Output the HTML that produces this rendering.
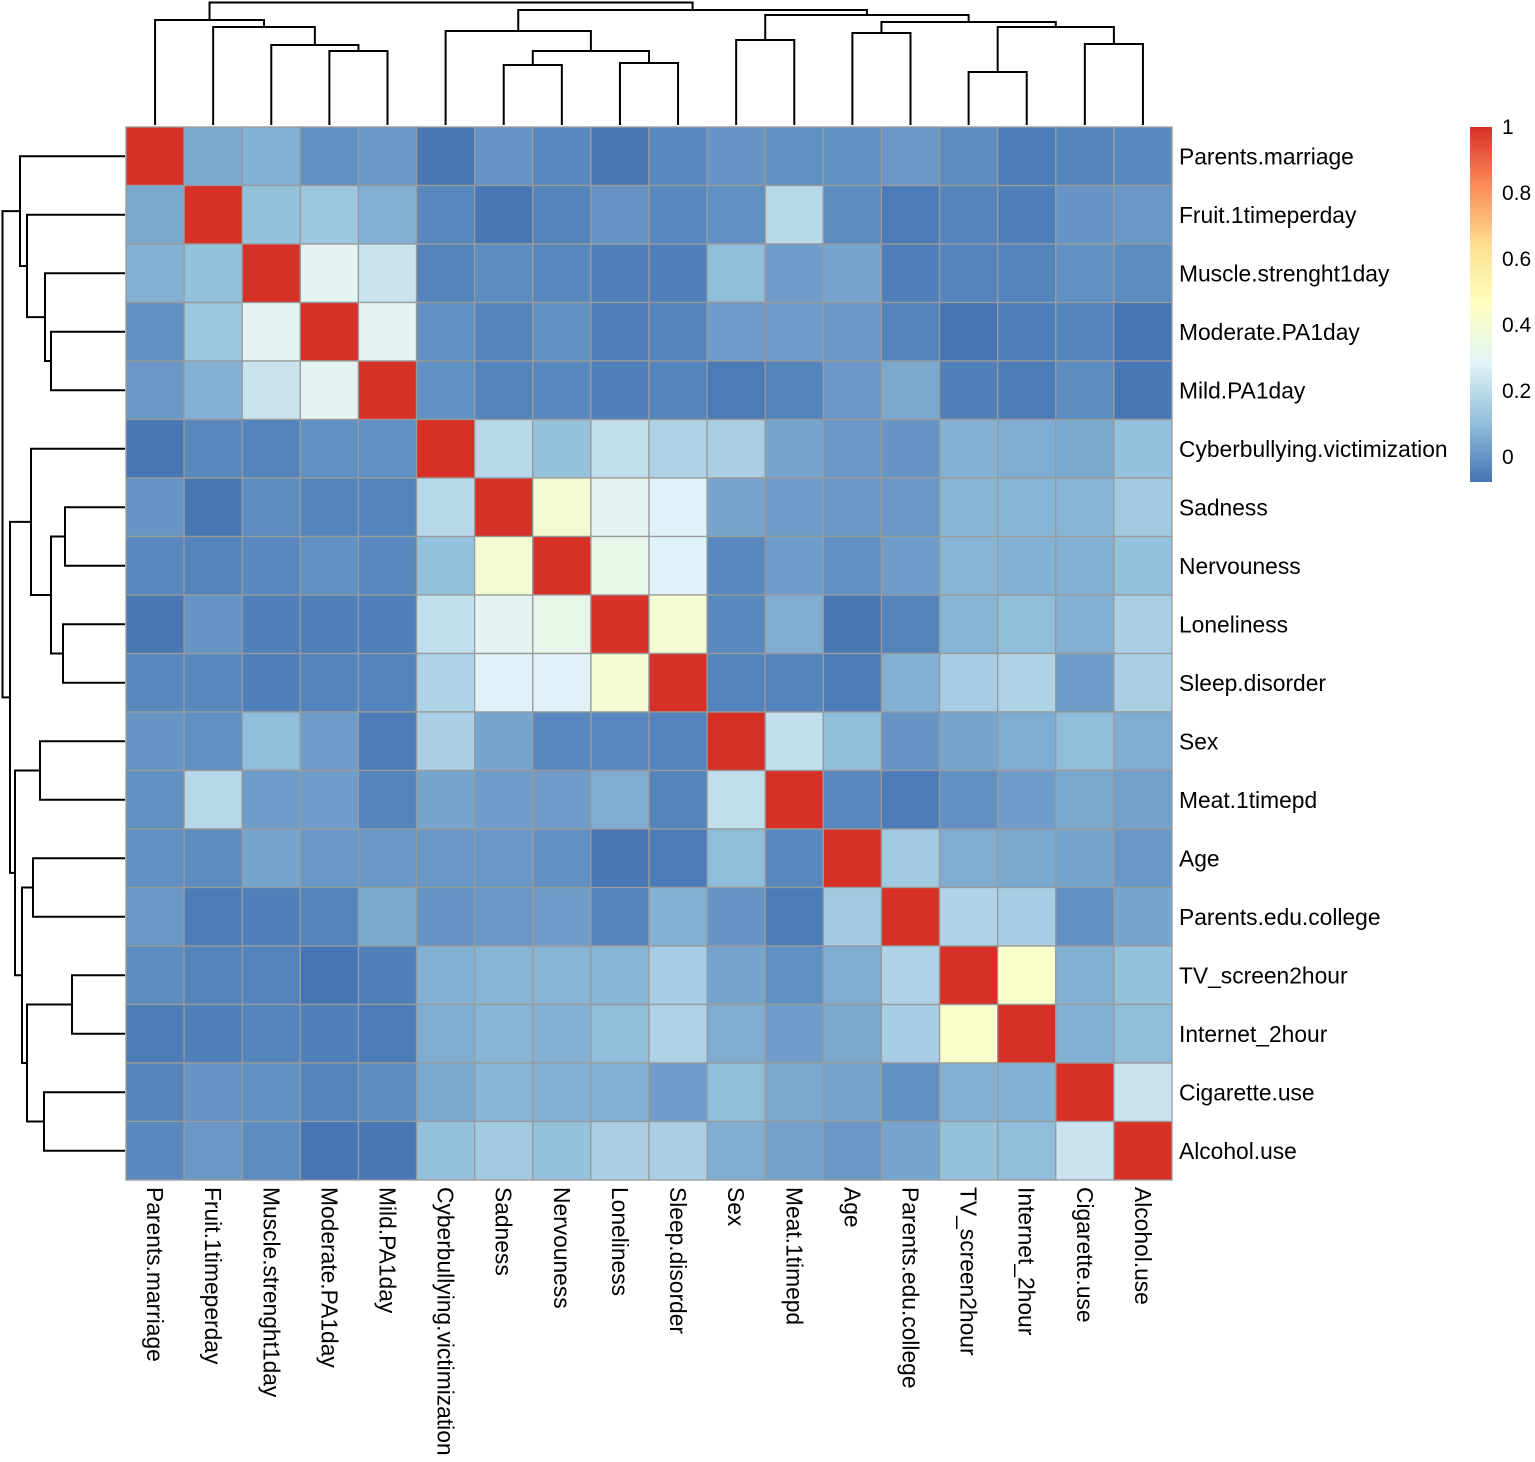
<!DOCTYPE html>
<html><head><meta charset="utf-8"><style>
html,body{margin:0;padding:0;background:#fff;}
svg{display:block;font-family:"Liberation Sans",Arial,sans-serif;}
</style></head><body>
<svg id="chart" width="1535" height="1462" viewBox="0 0 1535 1462" xmlns="http://www.w3.org/2000/svg">
<defs>
<linearGradient id="lg" x1="0" y1="1" x2="0" y2="0">
<stop offset="0" stop-color="#4575B4"/><stop offset="0.1667" stop-color="#91BFDB"/><stop offset="0.3333" stop-color="#E0F3F8"/><stop offset="0.5" stop-color="#FFFFBF"/><stop offset="0.6667" stop-color="#FEE090"/><stop offset="0.8333" stop-color="#FC8D59"/><stop offset="1" stop-color="#D73027"/>
</linearGradient>
</defs>
<g id="cells"></g>
<g id="dtop"></g>
<g id="dleft"></g>
<g id="rlabels"></g>
<g id="clabels"></g>
<g id="legend">
<rect x="1470" y="127" width="22" height="355" fill="url(#lg)"/>
</g>
</svg>
<script>
const labels = ["Parents.marriage","Fruit.1timeperday","Muscle.strenght1day","Moderate.PA1day","Mild.PA1day","Cyberbullying.victimization","Sadness","Nervouness","Loneliness","Sleep.disorder","Sex","Meat.1timepd","Age","Parents.edu.college","TV_screen2hour","Internet_2hour","Cigarette.use","Alcohol.use"];
const r0 = [1,0.05,0.07,-0.01,0.01,-0.07,0.0,-0.03,-0.07,-0.03,0.0,-0.01,-0.01,0.01,-0.02,-0.06,-0.04,-0.03];
const r1 = [0.05,1,0.11,0.13,0.07,-0.03,-0.07,-0.04,0.0,-0.03,-0.01,0.19,-0.02,-0.06,-0.04,-0.05,0.0,0.01];
const r2 = [0.07,0.11,1,0.3,0.23,-0.04,-0.02,-0.03,-0.05,-0.05,0.1,0.02,0.04,-0.05,-0.04,-0.04,-0.01,-0.02];
const r3 = [-0.01,0.13,0.3,1,0.3,-0.01,-0.04,-0.01,-0.05,-0.04,0.02,0.02,0.01,-0.04,-0.08,-0.05,-0.04,-0.08];
const r4 = [0.01,0.07,0.23,0.3,1,-0.01,-0.04,-0.03,-0.05,-0.04,-0.06,-0.04,0.01,0.05,-0.05,-0.06,-0.02,-0.07];
const r5 = [-0.07,-0.03,-0.04,-0.01,-0.01,1,0.19,0.11,0.21,0.17,0.16,0.04,0.01,0.0,0.07,0.06,0.05,0.11];
const r6 = [0.0,-0.07,-0.02,-0.04,-0.04,0.19,1,0.4,0.3,0.28,0.04,0.02,0.01,0.01,0.08,0.08,0.08,0.14];
const r7 = [-0.03,-0.04,-0.03,-0.01,-0.03,0.11,0.4,1,0.33,0.28,-0.03,0.02,-0.01,0.02,0.08,0.07,0.07,0.11];
const r8 = [-0.07,0.0,-0.05,-0.05,-0.05,0.21,0.3,0.33,1,0.4,-0.03,0.06,-0.07,-0.04,0.08,0.1,0.07,0.16];
const r9 = [-0.03,-0.03,-0.05,-0.04,-0.04,0.17,0.28,0.28,0.4,1,-0.04,-0.04,-0.06,0.07,0.15,0.17,0.02,0.16];
const r10 = [0.0,-0.01,0.1,0.02,-0.06,0.16,0.04,-0.03,-0.03,-0.04,1,0.21,0.1,0.0,0.04,0.06,0.1,0.06];
const r11 = [-0.01,0.19,0.02,0.02,-0.04,0.04,0.02,0.02,0.06,-0.04,0.21,1,-0.03,-0.06,-0.01,0.02,0.05,0.03];
const r12 = [-0.01,-0.02,0.04,0.01,0.01,0.01,0.01,-0.01,-0.07,-0.06,0.1,-0.03,1,0.14,0.06,0.05,0.04,0.01];
const r13 = [0.01,-0.06,-0.05,-0.04,0.05,0.0,0.01,0.02,-0.04,0.07,0.0,-0.06,0.14,1,0.17,0.15,-0.01,0.04];
const r14 = [-0.02,-0.04,-0.04,-0.08,-0.05,0.07,0.08,0.08,0.08,0.15,0.04,-0.01,0.06,0.17,1,0.43,0.07,0.11];
const r15 = [-0.06,-0.05,-0.04,-0.05,-0.06,0.06,0.08,0.07,0.1,0.17,0.06,0.02,0.05,0.15,0.43,1,0.07,0.1];
const r16 = [-0.04,0.0,-0.01,-0.04,-0.02,0.05,0.08,0.07,0.07,0.02,0.1,0.05,0.04,-0.01,0.07,0.07,1,0.23];
const r17 = [-0.03,0.01,-0.02,-0.08,-0.07,0.11,0.14,0.11,0.16,0.16,0.06,0.03,0.01,0.04,0.11,0.1,0.23,1];
const matrix = [r0,r1,r2,r3,r4,r5,r6,r7,r8,r9,r10,r11,r12,r13,r14,r15,r16,r17];
const legendTicks = [0,0.2,0.4,0.6,0.8,1];
const legendTickLabels = ["0","0.2","0.4","0.6","0.8","1"];
// dendrogram merges: [left, right, height]; negative = leaf index (1-based), positive = merge index (1-based)
const merges = [
 [-4,-5,74],[-3,1,80],[-2,2,98],[-1,3,105],
 [-7,-8,60],[-9,-10,62],[5,6,74],[-6,7,94],
 [-11,-12,85],[-13,-14,92],[-15,-16,53],[-17,-18,81],[11,12,98],[10,13,103],[9,14,110],
 [8,15,115],[4,16,122.5]
];

const NS="http://www.w3.org/2000/svg";
const X0=126,X1=1172,Y0=127,Y1=1180,N=labels.length;
const cw=(X1-X0)/N, ch=(Y1-Y0)/N;
const vmin=-0.076,vmax=1.0;
const stops=["#4575B4","#91BFDB","#E0F3F8","#FFFFBF","#FEE090","#FC8D59","#D73027"];
function hex(h){return [1,3,5].map(i=>parseInt(h.substr(i,2),16));}
function color(v){let t=(v-vmin)/(vmax-vmin);t=Math.max(0,Math.min(1,t));const p=t*6,i=Math.min(5,Math.floor(p)),f=p-i;const a=hex(stops[i]),b=hex(stops[i+1]);return "rgb("+a.map((c,k)=>Math.round(c+(b[k]-c)*f)).join(",")+")";}
function xPos(i){return X0+cw*i;}
function yPos(i){return Y0+ch*i;}
function legendY(v){return 127+(vmax-v)/(vmax-vmin)*355;}
function mk(tag,attrs,parent){const e=document.createElementNS(NS,tag);for(const k in attrs)e.setAttribute(k,attrs[k]);parent.appendChild(e);return e;}

const gc=document.getElementById('cells');
for(let r=0;r<N;r++)for(let c=0;c<N;c++){
 const e=mk('rect',{x:xPos(c),y:yPos(r),width:cw,height:ch,fill:color(matrix[r][c]),stroke:"#9a9a9a","stroke-width":1.3},gc);
 
 
}
const gr=document.getElementById('rlabels'),gl=document.getElementById('clabels');
labels.forEach((lab,i)=>{
 const t=mk('text',{x:1179,y:yPos(i)+ch/2+8,"font-size":22.8,fill:"#000"},gr);t.textContent=lab;
 
 
 const cx=xPos(i)+cw/2-8, cy=1187;
 const u=mk('text',{x:cx,y:cy,"font-size":22.8,fill:"#000",transform:"rotate(90 "+cx+" "+cy+")"},gl);u.textContent=lab;
 
 
});
const gleg=document.getElementById('legend');
legendTicks.forEach((v,i)=>{
 const t=mk('text',{x:1502,y:legendY(v)+7,"font-size":21,fill:"#000"},gleg);t.textContent=legendTickLabels[i];
 
 
});
function node(id){ if(id<0) return {pos:-id-1+0.5,h:0}; const m=merges[id-1]; const a=node(m[0]),b=node(m[1]); return {pos:(a.pos+b.pos)/2,h:m[2],a,b}; }
const root=node(merges.length);
const base=125;
function drawTop(n,g){ if(!n.a) return; const ya=base-n.a.h, yb=base-n.b.h, y=base-n.h;
 const xa=X0+n.a.pos*cw, xb=X0+n.b.pos*cw;
 const p=mk('path',{d:`M${xa},${ya}V${y}H${xb}V${yb}`,fill:"none",stroke:"#000","stroke-width":2},g);
 
 
 drawTop(n.a,g);drawTop(n.b,g);}
function drawLeft(n,g){ if(!n.a) return; const xa=base-n.a.h, xb=base-n.b.h, x=base-n.h;
 const ya=Y0+n.a.pos*ch, yb=Y0+n.b.pos*ch;
 const p=mk('path',{d:`M${xa},${ya}H${x}V${yb}H${xb}`,fill:"none",stroke:"#000","stroke-width":2},g);
 
 
 drawLeft(n.a,g);drawLeft(n.b,g);}
drawTop(root,document.getElementById('dtop'));
drawLeft(root,document.getElementById('dleft'));
</script>
</body></html>
